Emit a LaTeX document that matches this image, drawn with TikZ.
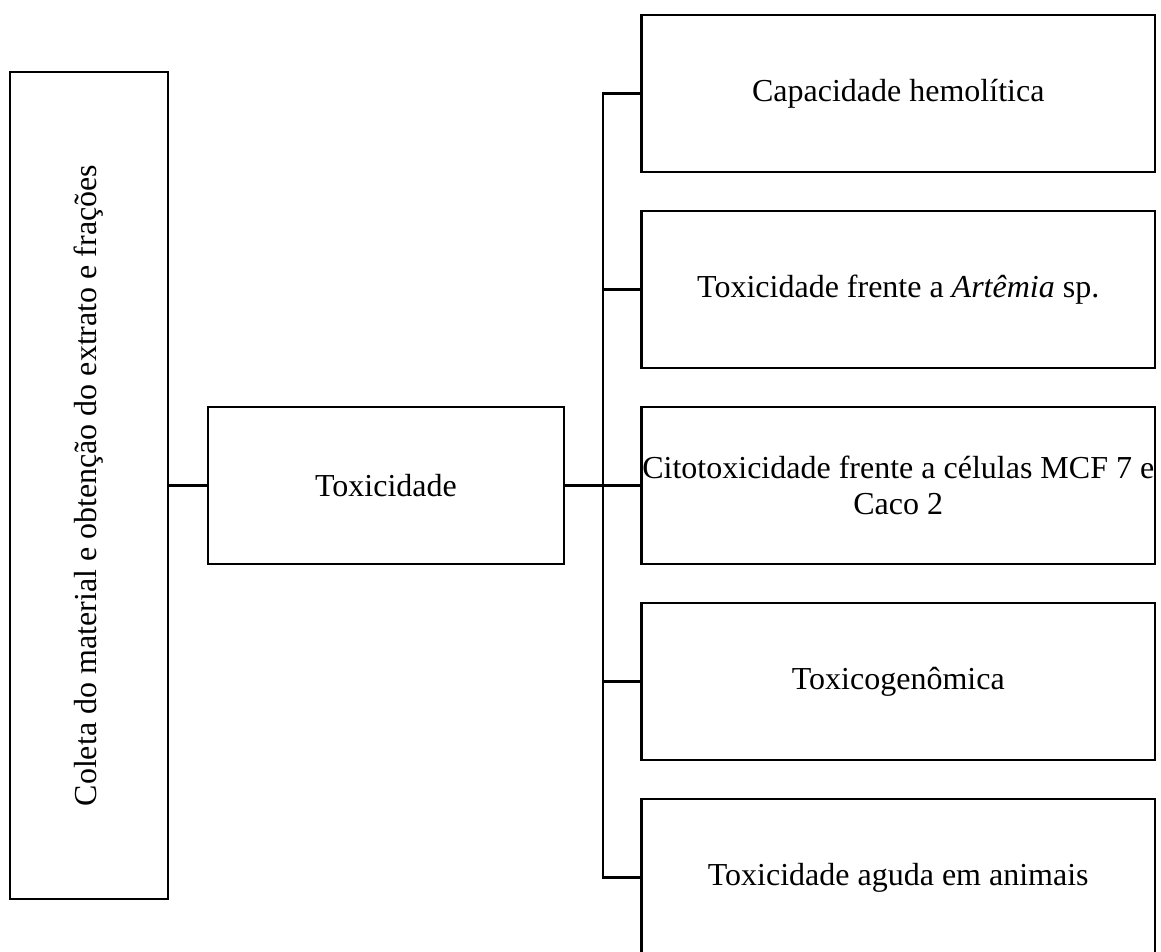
\documentclass[tikz,border=0pt]{standalone}
\usepackage{fontspec}
\setmainfont{Liberation Serif}
\usetikzlibrary{positioning}

\tikzset{
  box/.style={draw, rectangle, line width=1.8pt, inner sep=0pt,
    minimum width=385pt, minimum height=117.75pt, align=center,
    font=\fontsize{24}{27}\selectfont},
  link/.style={line width=1.8pt},
}

\begin{document}
\begin{tikzpicture}[x=0.75pt, y=-0.75pt]
\clip (0,0) rectangle (1161,951);

% left column, text runs upwards
\node[box, rotate=90, minimum width=620.25pt, minimum height=118.5pt] (coleta) at (89,485.5)
  {Coleta do material e obtenção do extrato e frações};
\node[box, minimum width=267pt] (tox) at (386,485.5) {Toxicidade};

% tests
\node[box] (hemo) at (898.25,93.5) {Capacidade hemolítica};
\node[box] (artemia) at (898.25,289.5) {Toxicidade frente a \textit{Artêmia} sp.};
\node[box] (cito) at (898.25,485.5) {Citotoxicidade frente a células MCF 7 e\\Caco 2};
\node[box] (genom) at (898.25,681.5) {Toxicogenômica};
\node[box] (aguda) at (898.25,877.5) {Toxicidade aguda em animais};

\coordinate (bus) at (603,485.5);

\draw[link] (coleta.south) -- (tox.west);
\draw[link] (tox.east) -- (bus);
\draw[link] (hemo.west) -| (bus |- aguda.west) -- (aguda.west);
\foreach \n in {artemia,cito,genom}
  \draw[link] (\n.west) -- (bus |- \n.west);
\end{tikzpicture}
\end{document}
